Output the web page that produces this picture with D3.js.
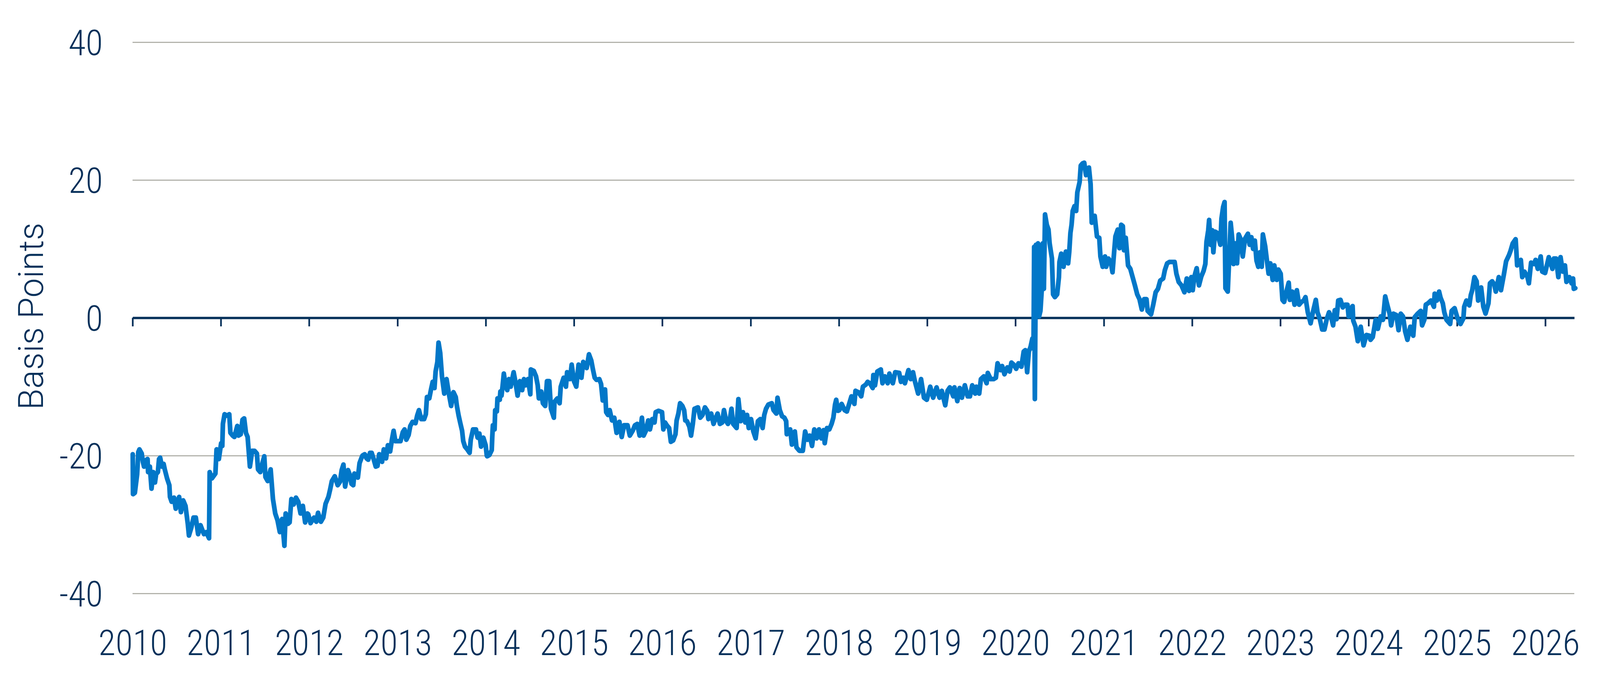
<!DOCTYPE html>
<html>
<head>
<meta charset="utf-8">
<script src="https://cdn.jsdelivr.net/npm/d3@7"></script>
<style>
  html, body { margin: 0; padding: 0; background: #fff; overflow: hidden; }
  svg { display: block; }
  .axis text { font-family: "Roboto Condensed", "Liberation Sans Narrow", Roboto, sans-serif; font-weight: 300; fill: #06305a; }
  .ylabel { font-family: Roboto, "Liberation Sans", sans-serif; font-weight: 300; fill: #06305a; }
</style>
</head>
<body>
<svg id="chart"></svg>
<script>
// year ticks along the bottom
var yearTicks = ["2010", "2011", "2012", "2013", "2014", "2015", "2016", "2017", "2018",
  "2019", "2020", "2021", "2022", "2023", "2024", "2025", "2026"];
var yTicks = [-40, -20, 0, 20, 40];
var gridValues = [-40, -20, 20, 40];

// observation dates as decimal years
var dates = [
  2010.002, 2010.005, 2010.026, 2010.052, 2010.065, 2010.078, 2010.104, 2010.117, 2010.130, 2010.150,
  2010.170, 2010.176, 2010.196, 2010.215, 2010.235, 2010.254, 2010.267, 2010.287, 2010.300, 2010.313,
  2010.333, 2010.352, 2010.365, 2010.391, 2010.417, 2010.424, 2010.443, 2010.470, 2010.489, 2010.509,
  2010.528, 2010.548, 2010.574, 2010.600, 2010.626, 2010.639, 2010.665, 2010.691, 2010.717, 2010.743,
  2010.770, 2010.809, 2010.835, 2010.867, 2010.874, 2010.900, 2010.939, 2010.952, 2010.978, 2011.004,
  2011.017, 2011.024, 2011.043, 2011.069, 2011.096, 2011.109, 2011.135, 2011.154, 2011.187, 2011.200,
  2011.226, 2011.246, 2011.265, 2011.285, 2011.304, 2011.330, 2011.356, 2011.382, 2011.409, 2011.422,
  2011.448, 2011.474, 2011.493, 2011.506, 2011.532, 2011.565, 2011.591, 2011.617, 2011.643, 2011.669,
  2011.695, 2011.721, 2011.735, 2011.761, 2011.780, 2011.800, 2011.826, 2011.852, 2011.878, 2011.904,
  2011.930, 2011.956, 2011.982,
  2011.991, 2012.017, 2012.056, 2012.082, 2012.102, 2012.134, 2012.161, 2012.187, 2012.219, 2012.239,
  2012.258, 2012.291, 2012.324, 2012.350, 2012.369, 2012.389, 2012.408, 2012.441, 2012.461, 2012.480,
  2012.500, 2012.513, 2012.552, 2012.571, 2012.591, 2012.604, 2012.630, 2012.650, 2012.669, 2012.689,
  2012.708, 2012.728, 2012.754, 2012.774, 2012.793, 2012.813, 2012.826, 2012.845, 2012.871, 2012.891,
  2012.917, 2012.937, 2012.956, 2012.976, 2013.008, 2013.034, 2013.060, 2013.080, 2013.100, 2013.126,
  2013.145, 2013.171, 2013.204, 2013.223, 2013.243, 2013.269, 2013.302, 2013.321, 2013.334, 2013.360,
  2013.380, 2013.399, 2013.419, 2013.432, 2013.452, 2013.465, 2013.484, 2013.504, 2013.530, 2013.543,
  2013.556, 2013.582, 2013.608, 2013.634, 2013.660, 2013.673, 2013.693, 2013.712, 2013.732, 2013.745,
  2013.765, 2013.791, 2013.817, 2013.830, 2013.856, 2013.889, 2013.908, 2013.928, 2013.947, 2013.973,
  2013.999, 2014.012,
  2014.016, 2014.042, 2014.068, 2014.074, 2014.081, 2014.100, 2014.107, 2014.126, 2014.133, 2014.159,
  2014.166, 2014.179, 2014.192, 2014.205, 2014.224, 2014.244, 2014.263, 2014.283, 2014.316, 2014.335,
  2014.361, 2014.387, 2014.413, 2014.433, 2014.452, 2014.479, 2014.505, 2014.511, 2014.544, 2014.570,
  2014.589, 2014.602, 2014.629, 2014.648, 2014.674, 2014.694, 2014.720, 2014.739, 2014.772, 2014.779,
  2014.811, 2014.837, 2014.850, 2014.883, 2014.909, 2014.922, 2014.955, 2014.974, 2015.000, 2015.026,
  2015.052, 2015.085, 2015.105, 2015.144, 2015.170, 2015.196, 2015.215, 2015.235, 2015.255, 2015.287,
  2015.307, 2015.326, 2015.352, 2015.365, 2015.385, 2015.405, 2015.431, 2015.457, 2015.483, 2015.515,
  2015.541, 2015.568, 2015.607, 2015.633, 2015.665, 2015.691, 2015.717, 2015.744, 2015.770, 2015.789,
  2015.815, 2015.841, 2015.861, 2015.887, 2015.913, 2015.926, 2015.959, 2015.998,
  2016.013, 2016.033, 2016.052, 2016.078, 2016.098, 2016.124, 2016.150, 2016.163, 2016.183, 2016.202,
  2016.228, 2016.248, 2016.261, 2016.280, 2016.307, 2016.326, 2016.346, 2016.365, 2016.404, 2016.430,
  2016.456, 2016.483, 2016.509, 2016.522, 2016.554, 2016.580, 2016.600, 2016.626, 2016.652, 2016.678,
  2016.698, 2016.724, 2016.743, 2016.763, 2016.783, 2016.802, 2016.841, 2016.861, 2016.887, 2016.913,
  2016.939, 2016.959, 2016.978, 2017.004, 2017.030, 2017.056, 2017.082, 2017.109, 2017.135, 2017.154,
  2017.174, 2017.200, 2017.239, 2017.259, 2017.291, 2017.304, 2017.330, 2017.356, 2017.382, 2017.402,
  2017.409, 2017.428, 2017.448, 2017.467, 2017.500, 2017.519, 2017.552, 2017.591, 2017.617, 2017.643,
  2017.669, 2017.695, 2017.721, 2017.748, 2017.774, 2017.800, 2017.826, 2017.839, 2017.865, 2017.891,
  2017.917, 2017.937, 2017.956, 2017.969, 2017.989,
  2018.005, 2018.031, 2018.064, 2018.090, 2018.116, 2018.142, 2018.175, 2018.188, 2018.220, 2018.253,
  2018.272, 2018.305, 2018.325, 2018.351, 2018.383, 2018.390, 2018.409, 2018.435, 2018.475, 2018.494,
  2018.520, 2018.553, 2018.572, 2018.611, 2018.638, 2018.683, 2018.703, 2018.729, 2018.748, 2018.788,
  2018.814, 2018.840, 2018.859, 2018.898, 2018.931, 2018.964, 2018.996, 2019.035, 2019.068, 2019.107,
  2019.140, 2019.166, 2019.205, 2019.231, 2019.257, 2019.296, 2019.309, 2019.342, 2019.368, 2019.394,
  2019.427, 2019.459, 2019.485, 2019.511, 2019.544, 2019.557, 2019.590, 2019.609, 2019.642, 2019.674,
  2019.687, 2019.720, 2019.753, 2019.779, 2019.798, 2019.831, 2019.850, 2019.876, 2019.909, 2019.935,
  2019.955, 2019.981,
  2020.009, 2020.035, 2020.068, 2020.094, 2020.113, 2020.133, 2020.152, 2020.172, 2020.192, 2020.205,
  2020.212, 2020.220, 2020.232, 2020.244, 2020.256, 2020.268, 2020.283, 2020.302, 2020.309, 2020.322,
  2020.335, 2020.355, 2020.374, 2020.387, 2020.413, 2020.426, 2020.446, 2020.472, 2020.492, 2020.498,
  2020.518, 2020.544, 2020.570, 2020.596, 2020.609, 2020.622, 2020.635, 2020.648, 2020.668, 2020.687,
  2020.700, 2020.726, 2020.739, 2020.759, 2020.778, 2020.798, 2020.831, 2020.850, 2020.863, 2020.896,
  2020.922, 2020.948, 2020.961, 2020.987, 2021.013, 2021.026, 2021.052, 2021.078, 2021.098, 2021.118,
  2021.131, 2021.157, 2021.176, 2021.196, 2021.215, 2021.228, 2021.248, 2021.274, 2021.300, 2021.326,
  2021.352, 2021.378, 2021.404, 2021.430, 2021.457, 2021.483, 2021.496, 2021.535, 2021.561, 2021.587,
  2021.613, 2021.639, 2021.672, 2021.691, 2021.717, 2021.743, 2021.770, 2021.802, 2021.822, 2021.848,
  2021.880, 2021.913, 2021.939, 2021.965, 2021.991,
  2022.007, 2022.026, 2022.052, 2022.078, 2022.104, 2022.130, 2022.150, 2022.163, 2022.183, 2022.193,
  2022.209, 2022.228, 2022.241, 2022.261, 2022.287, 2022.320, 2022.333, 2022.352, 2022.368, 2022.372,
  2022.378, 2022.404, 2022.417, 2022.437, 2022.456, 2022.469, 2022.489, 2022.509, 2022.528, 2022.548,
  2022.574, 2022.600, 2022.633, 2022.652, 2022.672, 2022.691, 2022.711, 2022.730, 2022.750, 2022.769,
  2022.789, 2022.802, 2022.828, 2022.848, 2022.867, 2022.887, 2022.913, 2022.932, 2022.959, 2022.978,
  2023.004, 2023.024, 2023.043, 2023.069, 2023.095, 2023.108, 2023.135, 2023.161, 2023.187, 2023.213,
  2023.239, 2023.265, 2023.285, 2023.311, 2023.343, 2023.369, 2023.402, 2023.421, 2023.448, 2023.474,
  2023.500, 2023.526, 2023.552, 2023.578, 2023.598, 2023.617, 2023.637, 2023.656, 2023.682, 2023.708,
  2023.734, 2023.761, 2023.774, 2023.800, 2023.819, 2023.826, 2023.852, 2023.878, 2023.911, 2023.943,
  2023.976, 2024.008,
  2024.022, 2024.047, 2024.080, 2024.105, 2024.138, 2024.163, 2024.188, 2024.213, 2024.238, 2024.255,
  2024.280, 2024.314, 2024.339, 2024.364, 2024.389, 2024.414, 2024.439, 2024.472, 2024.505, 2024.522,
  2024.555, 2024.589, 2024.605, 2024.630, 2024.647, 2024.672, 2024.705, 2024.739, 2024.747, 2024.772,
  2024.797, 2024.814, 2024.839, 2024.856, 2024.881, 2024.922, 2024.939, 2024.972, 2025.006, 2025.039,
  2025.072, 2025.081, 2025.106, 2025.139, 2025.156, 2025.172, 2025.197, 2025.222, 2025.239, 2025.273,
  2025.298, 2025.323, 2025.356, 2025.373, 2025.398, 2025.423, 2025.439, 2025.473, 2025.498, 2025.531,
  2025.556, 2025.589, 2025.606, 2025.631, 2025.664, 2025.673, 2025.681, 2025.723, 2025.739, 2025.764,
  2025.798, 2025.814, 2025.839, 2025.873, 2025.890, 2025.915, 2025.948, 2025.965, 2025.998, 2026.040,
  2026.081, 2026.098, 2026.123, 2026.148, 2026.173, 2026.198, 2026.223, 2026.240, 2026.273, 2026.298,
  2026.315, 2026.323, 2026.340
];

// spread in basis points, one per date
var spread = [
  -19.8, -25.6, -25.4, -22.7, -19.5, -19.1, -19.7, -20.9, -21.6, -20.7,
  -20.5, -22.4, -21.6, -24.8, -22.4, -23.9, -22.7, -22.4, -20.5, -20.3,
  -21.6, -21.2, -22.0, -23.3, -24.3, -26.0, -26.7, -26.1, -27.7, -26.7,
  -26.0, -28.2, -26.5, -27.3, -29.9, -31.6, -30.5, -29.0, -29.0, -31.4,
  -30.1, -31.4, -31.1, -32.0, -22.4, -23.3, -22.6, -19.1, -20.5, -18.2,
  -18.6, -15.4, -14.0, -14.2, -14.0, -16.7, -17.1, -17.3, -15.7, -17.1,
  -16.9, -14.8, -14.6, -16.7, -17.3, -21.6, -19.3, -19.3, -19.7, -22.0,
  -22.4, -21.0, -20.1, -23.1, -23.7, -22.0, -26.3, -28.4, -29.4, -31.1,
  -29.2, -33.1, -28.4, -29.9, -29.7, -26.3, -27.1, -26.1, -26.7, -28.4,
  -27.3, -29.7, -28.4,
  -28.5, -29.8, -29.0, -29.6, -28.3, -29.6, -29.0, -27.0, -26.0, -24.9,
  -23.7, -23.0, -24.3, -23.8, -22.1, -21.3, -24.5, -22.1, -22.8, -24.1,
  -24.3, -22.6, -23.2, -21.1, -20.4, -20.0, -19.8, -20.4, -20.6, -19.6,
  -19.6, -20.4, -21.6, -21.5, -19.8, -20.2, -20.9, -19.1, -20.4, -18.5,
  -19.4, -17.7, -16.4, -17.9, -17.9, -17.9, -16.6, -16.2, -17.7, -17.0,
  -15.7, -15.1, -15.3, -14.2, -13.4, -14.7, -14.7, -14.0, -11.5, -11.7,
  -10.4, -9.3, -10.2, -7.8, -6.4, -3.6, -5.1, -8.5, -11.0, -9.1,
  -8.9, -11.0, -12.8, -10.8, -11.5, -12.8, -14.2, -15.3, -16.4, -17.9,
  -18.7, -19.1, -19.6, -17.7, -16.2, -16.2, -17.4, -16.8, -18.7, -17.4,
  -18.5, -20.0,
  -20.1, -19.9, -19.2, -17.3, -15.6, -16.2, -13.4, -13.6, -11.7, -11.9,
  -10.7, -11.3, -9.8, -8.1, -9.8, -10.5, -8.9, -10.0, -7.9, -9.2,
  -11.3, -9.2, -10.5, -8.9, -9.8, -8.9, -11.1, -7.5, -7.7, -8.5,
  -9.8, -11.7, -10.7, -12.4, -12.8, -9.2, -9.2, -13.2, -14.5, -12.2,
  -11.7, -12.4, -10.0, -8.7, -10.0, -7.9, -8.9, -6.8, -9.2, -10.0,
  -6.8, -8.7, -6.4, -7.3, -5.3, -6.2, -7.5, -8.7, -9.0, -8.9,
  -9.6, -12.0, -10.4, -13.7, -14.1, -13.4, -14.9, -14.5, -16.7, -15.1,
  -17.3, -15.6, -15.6, -17.1, -16.4, -15.6, -15.4, -17.1, -14.5, -17.1,
  -16.4, -14.9, -16.2, -14.7, -15.2, -13.7, -13.5, -13.7,
  -16.2, -15.2, -15.6, -16.0, -18.0, -17.8, -16.9, -14.9, -13.9, -12.4,
  -12.8, -13.4, -14.9, -15.0, -15.8, -17.1, -15.4, -13.2, -13.0, -14.5,
  -14.1, -13.0, -13.5, -14.7, -13.9, -15.4, -14.7, -13.9, -15.4, -15.2,
  -13.4, -15.0, -15.4, -14.9, -13.2, -15.4, -16.0, -11.8, -15.0, -13.7,
  -15.2, -14.1, -16.0, -14.7, -16.5, -17.5, -15.0, -14.7, -16.0, -14.1,
  -13.2, -12.6, -12.4, -13.4, -13.9, -11.6, -13.4, -14.3, -14.5, -15.0,
  -16.9, -16.5, -16.2, -18.4, -16.5, -18.8, -19.3, -19.3, -16.5, -17.7,
  -17.1, -18.6, -16.2, -17.5, -16.2, -17.5, -16.3, -18.2, -16.0, -16.2,
  -15.4, -14.5, -12.6, -11.9, -13.5,
  -13.4, -12.5, -13.4, -13.6, -12.5, -11.4, -12.5, -10.6, -10.8, -11.4,
  -10.0, -9.7, -9.3, -9.5, -10.2, -8.3, -9.8, -7.8, -7.5, -9.5,
  -8.5, -9.5, -8.1, -9.5, -7.9, -8.0, -9.3, -8.7, -9.5, -7.6,
  -8.9, -7.9, -9.1, -11.0, -8.9, -11.6, -11.9, -10.0, -11.6, -10.1,
  -11.6, -10.6, -12.7, -10.6, -10.1, -11.4, -10.1, -12.1, -10.2, -11.6,
  -9.8, -11.4, -11.4, -9.8, -11.0, -10.0, -11.0, -8.9, -8.5, -9.5,
  -8.0, -8.9, -8.9, -8.7, -6.6, -7.6, -7.0, -8.2, -7.2, -7.8,
  -6.5, -6.8,
  -7.4, -6.6, -7.1, -4.9, -4.7, -7.9, -4.9, -4.2, -3.0, -4.5,
  10.3, -11.8, 10.6, 0.5, 10.8, 0.2, 1.0, 4.9, 10.8, 4.2,
  15.0, 13.5, 12.8, 10.8, 8.6, 3.4, 3.0, 3.4, 5.9, 8.1,
  9.3, 7.4, 9.6, 7.9, 9.6, 12.3, 13.5, 15.5, 16.2, 15.5,
  18.2, 19.7, 22.1, 22.4, 22.5, 20.7, 21.8, 19.4, 13.8, 14.8,
  11.8, 11.6, 8.9, 7.4, 8.9, 7.4, 8.6, 8.1, 6.6, 9.8,
  11.8, 12.8, 10.1, 13.5, 13.3, 9.8, 11.6, 7.6, 7.1, 5.9,
  4.7, 3.4, 2.7, 1.2, 2.7, 2.7, 1.0, 0.5, 2.0, 3.7,
  4.2, 5.4, 5.7, 6.9, 7.9, 8.1, 8.1, 8.1, 6.4, 5.2,
  4.7, 3.7, 5.7, 3.9, 5.9,
  4.0, 6.0, 7.2, 4.7, 6.0, 6.8, 7.8, 11.0, 12.7, 14.2,
  10.6, 12.7, 9.5, 12.5, 12.3, 10.6, 14.4, 16.1, 16.8, 11.3,
  4.3, 3.8, 7.6, 13.8, 11.3, 7.8, 10.8, 7.9, 12.1, 11.5,
  8.9, 11.5, 12.2, 10.6, 11.7, 10.0, 11.2, 8.3, 7.4, 9.5,
  7.4, 12.1, 10.4, 8.3, 6.4, 7.9, 5.5, 7.6, 5.5, 7.0,
  6.4, 2.6, 2.3, 3.8, 5.1, 2.6, 3.8, 1.9, 4.0, 1.9,
  2.3, 2.5, 3.0, 0.8, -0.8, 0.8, 2.6, 0.8, -0.2, -1.7,
  -1.7, -0.2, 0.8, 0.0, -1.1, 1.1, -0.2, 2.5, 2.6, 1.5,
  1.9, 1.9, 0.2, 1.3, 1.7, -0.4, -1.3, -3.4, -1.3, -4.0,
  -2.5, -2.6,
  -3.2, -2.8, -0.3, -1.6, 0.2, -0.3, 3.1, 1.8, 0.6, -1.1,
  0.6, 0.4, -1.8, 0.6, 0.2, -2.0, -3.2, -1.3, -2.6, 0.1,
  0.6, 1.0, -1.1, -0.3, 1.9, 2.1, 2.5, 1.6, 3.5, 2.5,
  3.8, 2.9, 2.1, 0.8, -0.3, -0.9, 1.0, 1.4, -0.1, -0.9,
  -0.1, 1.6, 2.5, 1.8, 3.3, 4.0, 5.9, 5.3, 2.5, 4.4,
  1.6, 0.6, 2.1, 5.0, 5.3, 4.8, 3.8, 5.9, 4.0, 6.3,
  8.2, 9.1, 9.7, 10.8, 11.4, 9.5, 7.6, 8.4, 5.9, 6.7,
  5.9, 5.0, 8.0, 7.8, 8.4, 7.1, 8.9, 6.7, 6.5, 8.8,
  7.1, 8.6, 8.6, 5.9, 8.8, 6.7, 7.6, 5.2, 5.9, 5.0,
  5.7, 4.2, 4.3
];

function toDate(t) {
  var yr = Math.floor(t),
    a = new Date(yr, 0, 1),
    b = new Date(yr + 1, 0, 1);
  return new Date(+a + (t - yr) * (b - a));
}

var data = dates.map(function (t, i) {
  return { date: toDate(t), value: spread[i] };
});

// lay the chart out on the real window, in proportion to a 4792 x 1729 design
var W = window.innerWidth || 4792,
  H = window.innerHeight || 1729;
var sx = W / 4792,
  sy = H / 1729,
  sf = Math.sqrt(sx * sy);

var margin = { top: 108 * sy, right: 77 * sx, bottom: 209 * sy, left: 397 * sx },
  width = W - margin.left - margin.right,
  height = H - margin.top - margin.bottom;

var x = d3
  .scaleTime()
  .domain([new Date(2010, 0, 1), new Date(2026, 4, 1)])
  .range([0, width]);

var y = d3.scaleLinear().domain([-40, 40]).range([height, 0]);

var svg = d3
  .select("#chart")
  .attr("width", W)
  .attr("height", H)
  .append("g")
  .attr("transform", "translate(" + margin.left + "," + margin.top + ")");

// horizontal grid
var grid = svg
  .append("g")
  .attr("class", "grid")
  .call(d3.axisLeft(y).tickValues(gridValues).tickSize(-width).tickFormat(""));
grid.select(".domain").remove();
grid.selectAll("line").attr("stroke", "#b3b3ac").attr("stroke-width", 3 * sy);

// y labels
var yAxis = svg
  .append("g")
  .attr("class", "axis")
  .call(
    d3.axisLeft(y)
      .tickValues(yTicks)
      .tickSize(0)
      .tickPadding(89 * sx)
      .tickFormat(function (d) { return String(d); })
  );
yAxis.select(".domain").remove();
yAxis.selectAll("text").attr("dy", "0.36em").style("font-size", 98 * sf + "px");

// zero line with year ticks
var years = d3.timeYear.range(new Date(2010, 0, 1), new Date(2026, 1, 1));
var zero = svg
  .append("g")
  .attr("transform", "translate(0," + y(0) + ")")
  .call(d3.axisBottom(x).tickValues(years).tickSize(22 * sy).tickSizeOuter(0).tickFormat(""));
zero.select(".domain").attr("stroke", "#06305a").attr("stroke-width", 6 * sy);
zero.selectAll(".tick line").attr("stroke", "#06305a").attr("stroke-width", 5 * sx);

// year labels along the bottom
var xAxis = svg
  .append("g")
  .attr("class", "axis")
  .attr("transform", "translate(0," + (1678 * sy - margin.top) + ")")
  .call(
    d3.axisBottom(x)
      .tickValues(years)
      .tickSize(0)
      .tickPadding(0)
      .tickFormat(function (d, i) { return yearTicks[i]; })
  );
xAxis.select(".domain").remove();
xAxis.selectAll("text").attr("dy", "0").style("font-size", 98 * sf + "px");

var line = d3
  .line()
  .x(function (d) { return x(d.date); })
  .y(function (d) { return y(d.value); });

svg
  .append("path")
  .datum(data)
  .attr("fill", "none")
  .attr("stroke", "#0277c8")
  .attr("stroke-width", 13 * sf)
  .attr("stroke-linejoin", "round")
  .attr("stroke-linecap", "round")
  .attr("d", line);

svg
  .append("text")
  .attr("class", "ylabel")
  .attr("text-anchor", "middle")
  .style("font-size", 96 * sf + "px")
  .attr("transform", "translate(" + (129 * sx - margin.left) + "," + (810 * sy - margin.top) + ") rotate(-90)")
  .text("Basis Points");
</script>
</body>
</html>
